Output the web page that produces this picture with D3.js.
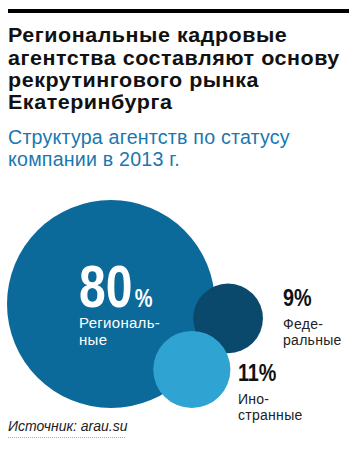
<!DOCTYPE html>
<html><head><meta charset="utf-8">
<script src="https://cdn.jsdelivr.net/npm/d3@7"></script>
<style>body{margin:0;background:#fff}svg{display:block}</style>
</head><body>
<script>
const titleLines = ["Региональные кадровые","агентства составляют основу","рекрутингового рынка","Екатеринбурга"];
const subtitleLines = ["Структура агентств по статусу","компании в 2013 г."];
const categories = ["Региональные","Федеральные","Иностранные"];
const labelLines = [["Региональ-","ные"],["Феде-","ральные"],["Ино-","странные"]];
const values = [80, 9, 11];
const colors = ["#0c6a9a","#0a486c","#2fa4d3"];
const source = "Источник: arau.su";

const W = 356, H = 450;
const font = "'Liberation Sans', Arial, sans-serif";
const svg = d3.select("body").append("svg").attr("width", W).attr("height", H);

svg.append("rect").attr("x", 8).attr("y", 9).attr("width", 341).attr("height", 4).attr("fill", "#000");

// fit a block of lines horizontally: widen glyphs with a small scale and a little spacing
function fitBlock(g, sel, idx, target, spacing) {
  sel.attr("letter-spacing", spacing);
  const n = sel.nodes()[idx];
  const w = n.getComputedTextLength();
  const sx = target / w;
  g.attr("transform", `translate(8,0) scale(${sx},1)`);
}

const tg = svg.append("g");
const title = tg.selectAll("text").data(titleLines).join("text")
  .attr("x", 0).attr("y", (d, i) => 42.5 + i * 22.2)
  .attr("font-family", font)
  .attr("font-weight", "bold").attr("font-size", 20.5).attr("fill", "#111")
  .text(d => d);
fitBlock(tg, title, 1, 332, 0.5);

const sg = svg.append("g");
const sub = sg.selectAll("text").data(subtitleLines).join("text")
  .attr("x", 0).attr("y", (d, i) => 144.5 + i * 22)
  .attr("font-family", font)
  .attr("font-size", 19.5).attr("fill", "#1b77af")
  .text(d => d);
fitBlock(sg, sub, 0, 282, 0.2);

// bubble layout
const r = d3.scaleSqrt().domain([0, d3.max(values)]).range([0, 104]);
const cx0 = 111, cy0 = 304;
const rb = r(values[0]), rd = r(values[1]), rl = r(values[2]);
const angD = 7 * Math.PI / 180, angL = 39 * Math.PI / 180;
const nodes = [
  {i: 0, x: cx0, y: cy0, r: rb},
  {i: 1, x: cx0 + (rb + 0.4 * rd) * Math.cos(angD), y: cy0 + (rb + 0.4 * rd) * Math.sin(angD), r: rd},
  {i: 2, x: cx0 + rb * Math.cos(angL), y: cy0 + rb * Math.sin(angL), r: rl}
];

svg.append("g").selectAll("circle").data(nodes).join("circle")
  .attr("cx", d => d.x).attr("cy", d => d.y).attr("r", d => d.r)
  .attr("fill", d => colors[d.i]);

// big label (inside)
const bl = svg.append("g").attr("transform", `translate(${cx0 - 32},${cy0 + 2.5})`);
const bt = bl.append("text").attr("transform", "scale(0.8,1)")
  .attr("font-family", font).attr("font-weight", "bold").attr("fill", "#fff");
bt.append("tspan").attr("font-size", 60).text(values[0]);
bt.append("tspan").attr("font-size", 25).attr("dx", 3).text("%");
bl.selectAll("text.l").data(labelLines[0]).join("text").attr("class", "l")
  .attr("x", 0).attr("y", (d, i) => 21.5 + i * 17)
  .attr("font-family", font).attr("font-size", 15).attr("fill", "#fff")
  .attr("letter-spacing", 0.3).text(d => d);

// outer labels
function outer(node, dx, dy) {
  const g = svg.append("g").attr("transform", `translate(${node.x + node.r + dx},${node.y + dy})`);
  g.append("text").attr("transform", "scale(0.86,1)")
    .attr("font-family", font).attr("font-weight", "bold").attr("font-size", 23).attr("fill", "#111")
    .text(values[node.i] + "%");
  g.selectAll("text.l").data(labelLines[node.i]).join("text").attr("class", "l")
    .attr("x", 0).attr("y", (d, i) => 23 + i * 16)
    .attr("font-family", font).attr("font-size", 14).attr("fill", "#222")
    .attr("letter-spacing", 0.3).text(d => d);
}
outer(nodes[1], 20, -12.5);
outer(nodes[2], 7.5, 12);

svg.append("text").attr("x", 8).attr("y", 431)
  .attr("font-family", font).attr("font-style", "italic").attr("font-size", 14).attr("fill", "#222")
  .text(source);
svg.append("line").attr("x1", 8).attr("x2", 125).attr("y1", 437.5).attr("y2", 437.5)
  .attr("stroke", "#aaa").attr("stroke-width", 1).attr("stroke-dasharray", "1,1");
</script>
</body></html>
